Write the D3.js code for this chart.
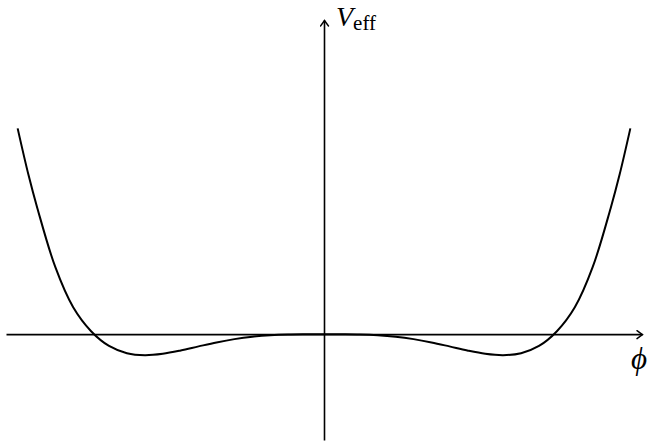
<!DOCTYPE html>
<meta charset="utf-8">
<style>
body { margin: 0; background: #fff; }
svg { display: block; }
.axis path { stroke: #000; stroke-width: 1.6px; }
.curve { fill: none; stroke: #000; stroke-width: 2px; }
.lbl { font-family: "Liberation Serif", "DejaVu Serif", serif; fill: #000; }
</style>
<body>
<svg width="650" height="441"></svg>
<script src="https://d3js.org/d3.v7.min.js"></script>
<script>
// right half of the potential (phi >= 0)
var phiRight = [0, 0.1, 0.2, 0.3, 0.4, 0.5, 0.6, 0.7, 0.8, 0.9, 1.0, 1.1, 1.2, 1.3, 1.4, 1.5, 1.6, 1.65, 1.71];
var vRight   = [0, -0.001, -0.006, -0.024, -0.06, -0.118, -0.197, -0.291, -0.388, -0.466, -0.5, -0.453, -0.281, 0.07, 0.64, 1.6, 3.0, 3.8, 4.9];
var xLabel = "ϕ";
var yLabel = "V";
var yLabelSub = "eff";

// curve is symmetric in phi
var data = [];
for (var i = phiRight.length - 1; i > 0; i--) data.push({phi: -phiRight[i], v: vRight[i]});
for (var j = 0; j < phiRight.length; j++) data.push({phi: phiRight[j], v: vRight[j]});

var svg = d3.select("svg");

var x = d3.scaleLinear().domain([-1.775, 1.775]).range([6, 642]),
    y = d3.scaleLinear().domain([-2.52, 7.48]).range([440, 20]);

var defs = svg.append("defs");
defs.append("marker")
    .attr("id", "arrow")
    .attr("viewBox", "-7 -5 9 10")
    .attr("refX", 0)
    .attr("refY", 0)
    .attr("markerWidth", 9)
    .attr("markerHeight", 10)
    .attr("markerUnits", "userSpaceOnUse")
    .attr("orient", "auto")
  .append("path")
    .attr("d", "M-5.5,-4 Q-1.5,-1 0,0 Q-1.5,1 -5.5,4")
    .attr("fill", "none")
    .attr("stroke", "#000")
    .attr("stroke-width", 1.4)
    .attr("stroke-linecap", "round");

// x axis through V = 0
svg.append("g")
    .attr("class", "axis")
    .attr("transform", "translate(0," + y(0) + ")")
    .call(d3.axisBottom(x).tickValues([]).tickSizeOuter(0))
    .select(".domain")
    .attr("marker-end", "url(#arrow)");

// y axis through phi = 0
svg.append("g")
    .attr("class", "axis")
    .attr("transform", "translate(" + x(0) + ",0)")
    .call(d3.axisLeft(y).tickValues([]).tickSizeOuter(0))
    .select(".domain")
    .attr("marker-end", "url(#arrow)");

var line = d3.line()
    .x(function(d) { return x(d.phi); })
    .y(function(d) { return y(d.v); })
    .curve(d3.curveCatmullRom);

svg.append("path")
    .datum(data)
    .attr("class", "curve")
    .attr("d", line);

// labels
var vl = svg.append("text")
    .attr("class", "lbl")
    .attr("x", x(0) + 12)
    .attr("y", 26);
vl.append("tspan")
    .style("font-style", "italic")
    .style("font-size", "28px")
    .text(yLabel);
vl.append("tspan")
    .attr("dx", 0)
    .attr("dy", 4)
    .style("font-size", "21px")
    .text(yLabelSub);

svg.append("text")
    .attr("class", "lbl")
    .attr("x", 639)
    .attr("y", 369)
    .attr("text-anchor", "middle")
    .style("font-style", "italic")
    .style("font-size", "31px")
    .text(xLabel);
</script>
</body>
